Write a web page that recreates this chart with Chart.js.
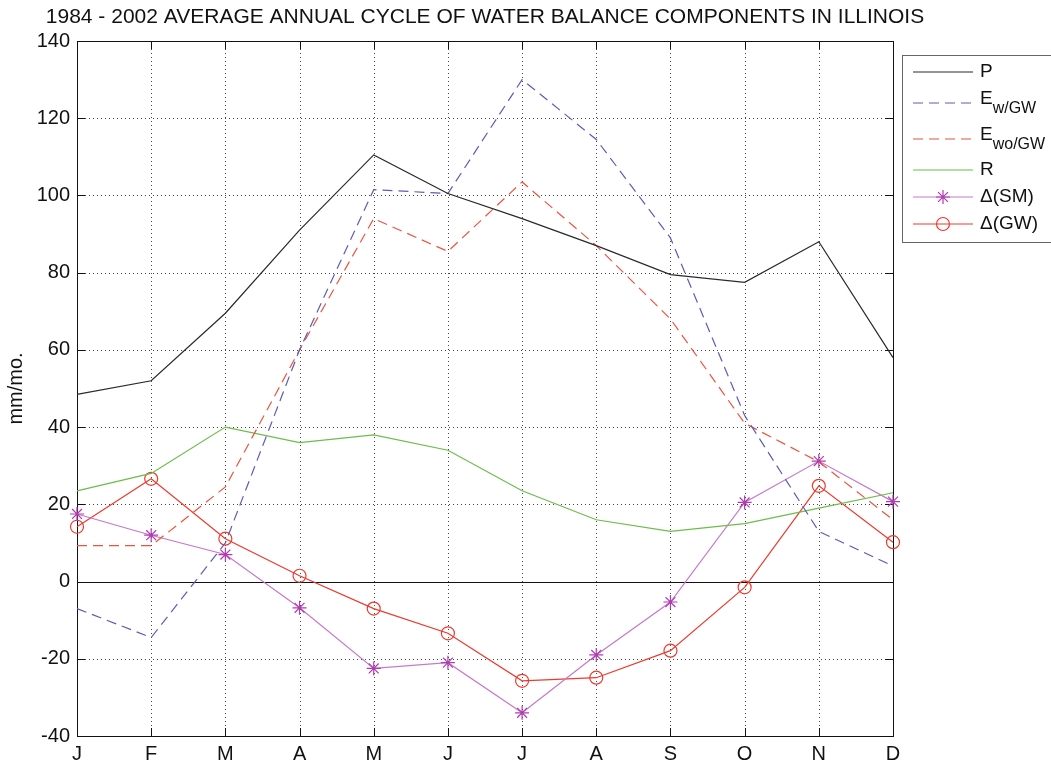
<!DOCTYPE html>
<html>
<head>
<meta charset="utf-8">
<script src="https://cdn.jsdelivr.net/npm/chart.js@4"></script>
<style>
  html, body { margin: 0; padding: 0; background: #fff; }
  canvas { display: block; }
</style>
</head>
<body>
<canvas id="chartBalance" width="1051" height="762"></canvas>
<script>
// datos
const meses = ['J', 'F', 'M', 'A', 'M', 'J', 'J', 'A', 'S', 'O', 'N', 'D'];
const serieP = [48.5, 52, 69.5, 91, 110.5, 100.5, 94, 87, 79.5, 77.5, 88, 58];
const serieEw = [-7, -14.5, 10, 60, 101.5, 100.5, 130, 114.5, 89, 43, 13, 4];
const serieEwo = [9.3, 9.3, 24.5, 60, 94, 85.5, 103.5, 87, 68, 41, 31, 16];
const serieR = [23.5, 28, 40, 36, 38, 34, 23.5, 16, 13, 15, 19, 23];
const serieSM = [17.5, 12, 7, -6.8, -22.5, -21, -34, -19, -5.3, 20.5, 31.2, 20.7];
const serieGW = [14.2, 26.6, 11.1, 1.5, -7, -13.4, -25.7, -24.9, -17.9, -1.5, 24.8, 10.2];
const yTicks = [-40, -20, 0, 20, 40, 60, 80, 100, 120, 140];

const titulo = '1984 - 2002 AVERAGE ANNUAL CYCLE OF WATER BALANCE COMPONENTS IN ILLINOIS';
const leyenda = [
  { main: 'P', sub: '' },
  { main: 'E', sub: 'w/GW' },
  { main: 'E', sub: 'wo/GW' },
  { main: 'R', sub: '' },
  { main: '\u0394(SM)', sub: '' },
  { main: '\u0394(GW)', sub: '' }
];
const filasLeyenda = [72, 103, 139, 170, 197, 224];

const FONT = 'Liberation Sans, Arial, sans-serif';

// rejilla, caja, ticks hacia dentro, titulo y leyenda
const matlabPlugin = {
  id: 'matlab',
  beforeDatasetsDraw(chart) {
    const ctx = chart.ctx;
    const a = chart.chartArea;
    const xs = chart.scales.x, ys = chart.scales.y;
    ctx.save();
    ctx.strokeStyle = '#444';
    ctx.lineWidth = 1;
    ctx.setLineDash([1, 3]);
    meses.forEach((m, i) => {
      const x = Math.round(xs.getPixelForValue(i)) + 0.5;
      ctx.beginPath(); ctx.moveTo(x, a.top); ctx.lineTo(x, a.bottom); ctx.stroke();
    });
    yTicks.forEach(v => {
      if (v === 0) return;
      const y = Math.round(ys.getPixelForValue(v)) + 0.5;
      ctx.beginPath(); ctx.moveTo(a.left, y); ctx.lineTo(a.right, y); ctx.stroke();
    });
    ctx.setLineDash([]);
    ctx.strokeStyle = '#111';
    const y0 = Math.round(ys.getPixelForValue(0)) + 0.5;
    ctx.beginPath(); ctx.moveTo(a.left, y0); ctx.lineTo(a.right, y0); ctx.stroke();
    // caja
    ctx.strokeRect(Math.round(a.left) + 0.5, Math.round(a.top) + 0.5,
      Math.round(a.right - a.left), Math.round(a.bottom - a.top));
    // ticks
    const tl = 8;
    meses.forEach((m, i) => {
      const x = Math.round(xs.getPixelForValue(i)) + 0.5;
      ctx.beginPath();
      ctx.moveTo(x, a.top); ctx.lineTo(x, a.top + tl);
      ctx.moveTo(x, a.bottom); ctx.lineTo(x, a.bottom - tl);
      ctx.stroke();
    });
    yTicks.forEach(v => {
      const y = Math.round(ys.getPixelForValue(v)) + 0.5;
      ctx.beginPath();
      ctx.moveTo(a.left, y); ctx.lineTo(a.left + tl, y);
      ctx.moveTo(a.right, y); ctx.lineTo(a.right - tl, y);
      ctx.stroke();
    });
    ctx.restore();
  },
  afterDraw(chart) {
    const ctx = chart.ctx;
    const a = chart.chartArea;
    ctx.save();
    // titulo
    ctx.fillStyle = '#111';
    ctx.font = '21px ' + FONT;
    ctx.textAlign = 'center';
    ctx.textBaseline = 'middle';
    ctx.fillText(titulo, (a.left + a.right) / 2, 17);
    // leyenda
    const bx = 902.5, by = 55.5;
    ctx.fillStyle = '#fff';
    ctx.fillRect(bx, by, 160, 187);
    ctx.strokeStyle = '#666';
    ctx.lineWidth = 1;
    ctx.strokeRect(bx, by, 160, 187);
    chart.data.datasets.forEach((ds, i) => {
      const lineY = filasLeyenda[i];
      ctx.strokeStyle = ds.borderColor;
      ctx.lineWidth = ds.borderWidth;
      ctx.setLineDash(ds.borderDash || []);
      ctx.beginPath(); ctx.moveTo(913, lineY); ctx.lineTo(973, lineY); ctx.stroke();
      ctx.setLineDash([]);
      if (ds.pointStyle === 'circle' && ds.pointRadius > 0) {
        ctx.strokeStyle = ds.pointBorderColor;
        ctx.lineWidth = 1.2;
        ctx.beginPath(); ctx.arc(943, lineY, ds.pointRadius, 0, Math.PI * 2); ctx.stroke();
      } else if (ds.pointStyle === 'star' && ds.pointRadius > 0) {
        ctx.strokeStyle = ds.pointBorderColor;
        ctx.lineWidth = 1.2;
        const r = ds.pointRadius;
        ctx.beginPath();
        for (let k = 0; k < 4; k++) {
          const ang = k * Math.PI / 4;
          ctx.moveTo(943 - r * Math.cos(ang), lineY - r * Math.sin(ang));
          ctx.lineTo(943 + r * Math.cos(ang), lineY + r * Math.sin(ang));
        }
        ctx.stroke();
      }
      const item = leyenda[i];
      ctx.fillStyle = '#111';
      ctx.textAlign = 'left';
      ctx.textBaseline = 'middle';
      ctx.font = '19px ' + FONT;
      if (item.sub) {
        ctx.fillText(item.main, 980, lineY - 4);
        const w = ctx.measureText(item.main).width;
        ctx.font = '16px ' + FONT;
        ctx.fillText(item.sub, 980 + w, lineY + 6);
      } else {
        ctx.fillText(item.main, 980, lineY);
      }
    });
    ctx.restore();
  }
};

const canvas = document.getElementById('chartBalance');
window._chartBalance = new Chart(canvas, {
  type: 'line',
  data: {
    labels: meses,
    datasets: [
      { label: 'P', data: serieP, borderColor: '#2a2a2a', borderWidth: 1.2, pointRadius: 0 },
      { label: 'Ew/GW', data: serieEw, borderColor: '#5c5cb8', borderWidth: 1.2, borderDash: [10, 6], pointRadius: 0 },
      { label: 'Ewo/GW', data: serieEwo, borderColor: '#f0523e', borderWidth: 1.2, borderDash: [10, 6], pointRadius: 0 },
      { label: 'R', data: serieR, borderColor: '#6cbd4a', borderWidth: 1.2, pointRadius: 0 },
      { label: '\u0394(SM)', data: serieSM, borderColor: '#c878cc', borderWidth: 1.2,
        pointStyle: 'star', pointRadius: 7, pointBorderColor: '#b03cb0', pointBorderWidth: 1.2,
        pointBackgroundColor: 'rgba(0,0,0,0)' },
      { label: '\u0394(GW)', data: serieGW, borderColor: '#ec3a2e', borderWidth: 1.2,
        pointStyle: 'circle', pointRadius: 6.5, pointBorderColor: '#ec3a2e', pointBorderWidth: 1.2,
        pointBackgroundColor: 'rgba(0,0,0,0)' }
    ]
  },
  options: {
    responsive: false,
    animation: false,
    devicePixelRatio: 1,
    layout: { padding: { top: 41, right: 158, bottom: 0, left: 0 } },
    elements: { line: { tension: 0 } },
    plugins: {
      legend: { display: false },
      title: { display: false },
      tooltip: { enabled: false }
    },
    scales: {
      x: {
        type: 'category',
        offset: false,
        grid: { display: false, drawTicks: false, tickLength: 0 },
        border: { display: false },
        ticks: { color: '#111', font: { family: FONT, size: 20 }, padding: 6, maxRotation: 0, autoSkip: false },
        afterFit: (s) => { s.height = 26; }
      },
      y: {
        min: -40,
        max: 140,
        afterBuildTicks: (s) => { s.ticks = yTicks.map(v => ({ value: v })); },
        grid: { display: false, drawTicks: false, tickLength: 0 },
        border: { display: false },
        title: { display: true, text: 'mm/mo.', color: '#111', font: { family: FONT, size: 20 }, padding: { top: 4, bottom: 0 } },
        ticks: { color: '#111', font: { family: FONT, size: 20 }, padding: 7 },
        afterFit: (s) => { s.width = 77; }
      }
    }
  },
  plugins: [matlabPlugin]
});
</script>
</body>
</html>
